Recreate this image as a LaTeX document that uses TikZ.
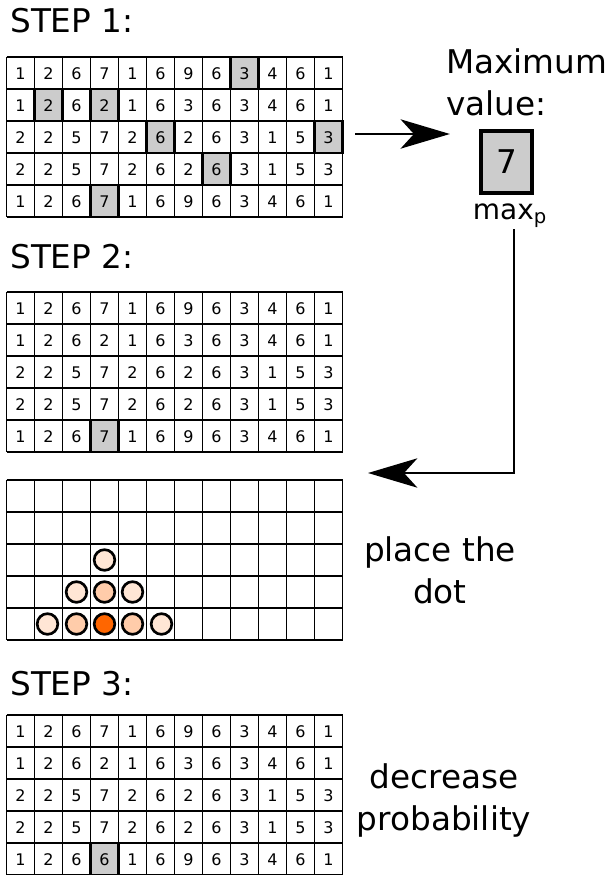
\documentclass[tikz,border=0pt]{standalone}
\usepackage{fontspec}
\setmainfont{DejaVu Sans}
\usetikzlibrary{arrows.meta}
\definecolor{cellgray}{HTML}{CCCCCC}
\definecolor{dotpale}{HTML}{FFE6D5}
\definecolor{dotmid}{HTML}{FFCCAA}
\definecolor{dotfull}{HTML}{FF6600}
\tikzset{
  gridline/.style={black,line width=0.8pt},
  hicell/.style={fill=cellgray,draw=black,line width=1.6pt},
  digit/.style={font=\fontsize{12}{14}\selectfont,inner sep=0pt},
  bigtext/.style={font=\fontsize{24.5}{31}\selectfont,inner sep=0pt},
  bigarrow/.style={line width=1.6pt,-{Stealth[length=37pt,width=22pt,inset=10pt]}},
  pdot/.style={circle,draw=black,line width=2pt,fill=#1,minimum size=15.5pt,inner sep=0pt},
  maxcell/.style={draw=black,line width=3.4pt,fill=cellgray,minimum width=38pt,minimum height=46.5pt,inner sep=0pt}
}
% 12 x 5 cell grid, #1 = top edge
\newcommand{\cellgrid}[1]{%
  \foreach \i in {0,...,12} \draw[gridline] ({6.5+28*\i},#1) -- ++(0,160);
  \foreach \j in {0,...,5} \draw[gridline] (6.5,{#1+32*\j}) -- ++(336,0);
}
% numbers of a grid, #1 = top edge, #2 = rows, #3 = name
\newcommand{\cellnums}[3]{%
  \foreach \row [count=\r] in #2 {
    \foreach \v [count=\c] in \row
      \node[digit] (#3-\r-\c) at ({6.5+28*(\c-0.5)},{#1+32*(\r-0.5)+1}) {\v};
  }
}
\def\numsA{{1,2,6,7,1,6,9,6,3,4,6,1},{1,2,6,2,1,6,3,6,3,4,6,1},{2,2,5,7,2,6,2,6,3,1,5,3},{2,2,5,7,2,6,2,6,3,1,5,3},{1,2,6,7,1,6,9,6,3,4,6,1}}
\def\numsB{{1,2,6,7,1,6,9,6,3,4,6,1},{1,2,6,2,1,6,3,6,3,4,6,1},{2,2,5,7,2,6,2,6,3,1,5,3},{2,2,5,7,2,6,2,6,3,1,5,3},{1,2,6,6,1,6,9,6,3,4,6,1}}

\begin{document}
\begin{tikzpicture}[x=0.75pt,y=-0.75pt]
\useasboundingbox (0,0) rectangle (615,875);

% step 1: find the maximum
\node[bigtext,anchor=base west] (step1) at (10,32) {STEP 1:};
\cellgrid{57}
\foreach \r/\c in {1/9,2/2,2/4,3/6,3/12,4/8,5/4}
  \draw[hicell] ({6.5+28*(\c-1)},{57+32*(\r-1)}) rectangle ++(28,32);
\cellnums{57}{\numsA}{a}

\node[bigtext,anchor=base west,align=left] (maxtxt) at (446,115) {Maximum\\value:};
\node[maxcell,font=\fontsize{24.5}{31}\selectfont] (maxbox) at (506.5,162) {7};
\node[anchor=base,inner sep=0pt,font=\fontsize{21}{25}\selectfont] (maxlbl) at (510,219) {max\textsubscript{p}};
\coordinate (out1) at (355,134);
\draw[bigarrow] (out1) -- ([xshift=-21.75pt]maxbox.west |- out1);

% step 2: place the dot
\node[bigtext,anchor=base west] (step2) at (10,268) {STEP 2:};
\cellgrid{292}
\draw[hicell] (90.5,420) rectangle ++(28,32);
\cellnums{292}{\numsA}{b}

\coordinate (drop) at (514,229);
\coordinate (back) at (368,473);
\draw[bigarrow] (drop) |- (back);

\cellgrid{480}
\node[pdot=dotpale] (d34) at (104.5,560) {};
\node[pdot=dotpale] (d43) at (76.5,592) {};
\node[pdot=dotmid] (d44) at (104.5,592) {};
\node[pdot=dotpale] (d45) at (132.5,592) {};
\node[pdot=dotpale] (d52) at (47.5,624) {};
\node[pdot=dotmid] (d53) at (76.5,624) {};
\node[pdot=dotfull] (d54) at (104.5,624) {};
\node[pdot=dotmid] (d55) at (132.5,624) {};
\node[pdot=dotpale] (d56) at (161.5,624) {};
\node[bigtext,anchor=base,align=center] (placetxt) at (440,603) {place the\\dot};

% step 3: lower the value
\node[bigtext,anchor=base west] (step3) at (10,695) {STEP 3:};
\cellgrid{715}
\draw[hicell] (90.5,843) rectangle ++(28,32);
\cellnums{715}{\numsB}{c}
\node[bigtext,anchor=base,align=center] (decrtxt) at (444,830) {decrease\\probability};
\end{tikzpicture}
\end{document}
